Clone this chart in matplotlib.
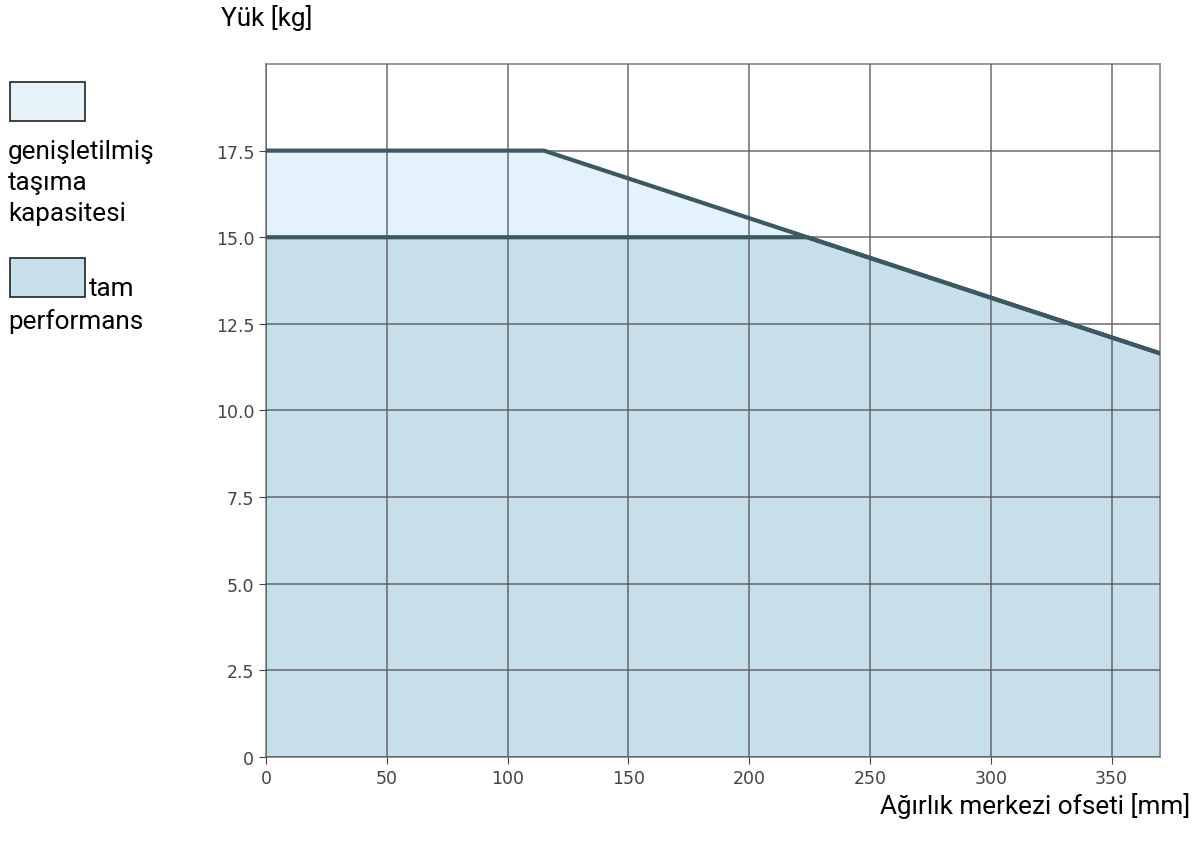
import matplotlib
matplotlib.use("Agg")
import matplotlib.pyplot as plt
from matplotlib.patches import Rectangle

# offset [mm] vs load [kg]
extended_x = [0, 115, 370]
extended_y = [17.5, 17.5, 11.65]
full_x = [0, 224, 370]
full_y = [15.0, 15.0, 11.65]

x_ticks = [0, 50, 100, 150, 200, 250, 300, 350]
y_ticks = [0, 2.5, 5.0, 7.5, 10.0, 12.5, 15.0, 17.5]
y_tick_labels = ["0", "2.5", "5.0", "7.5", "10.0", "12.5", "15.0", "17.5"]

c_ext = "#e3f2fb"
c_full = "#c7dfea"
c_line = "#3b5863"
c_grid = "#555555"
txt_font = ["Roboto", "DejaVu Sans"]
fs = 18.8

fig = plt.figure(figsize=(11.95, 8.54), dpi=100)
ax = fig.add_axes([0.2226, 0.1124, 0.7481, 0.8115])

ax.fill_between(extended_x, extended_y, color=c_ext, zorder=1)
ax.fill_between(full_x, full_y, color=c_full, zorder=2)
ax.plot(extended_x, extended_y, color=c_line, lw=3, zorder=4)
ax.plot(full_x, full_y, color=c_line, lw=3, zorder=4)

ax.set_xlim(0, 370)
ax.set_ylim(0, 20)
ax.set_xticks(x_ticks)
ax.set_yticks(y_ticks)
ax.set_yticklabels(y_tick_labels)
ax.grid(True, color=c_grid, lw=1.2, alpha=0.8, zorder=3)
ax.set_axisbelow(False)
ax.tick_params(labelsize=12.5, colors="#444444", length=5)
for s in ax.spines.values():
    s.set_color("#888888")
    s.set_linewidth(1.2)

fig.text(221 / 1195, 1 - 18 / 854, "Yük [kg]", fontsize=fs, family=txt_font,
         va="center", ha="left")
fig.text(1190 / 1195, 1 - 806 / 854, "Ağırlık merkezi ofseti [mm]", fontsize=fs,
         family=txt_font, va="center", ha="right")

# legend drawn by hand
W, H = 1195, 854
fig.patches.append(Rectangle((10 / W, 1 - 122 / H), 75 / W, 39 / H,
                             transform=fig.transFigure, facecolor="#e6f3fa",
                             edgecolor="#222222", lw=1.2))
fig.patches.append(Rectangle((10 / W, 1 - 298 / H), 75 / W, 39 / H,
                             transform=fig.transFigure, facecolor=c_full,
                             edgecolor="#222222", lw=1.2))
for txt, yy in [("genişletilmiş", 152), ("taşıma", 183), ("kapasitesi", 214)]:
    fig.text(8 / W, 1 - yy / H, txt, fontsize=fs, family=txt_font, va="center")
fig.text(89 / W, 1 - 289 / H, "tam", fontsize=fs, family=txt_font, va="center")
fig.text(8 / W, 1 - 322 / H, "performans", fontsize=fs, family=txt_font, va="center")

fig.savefig("out.png", dpi=100)
